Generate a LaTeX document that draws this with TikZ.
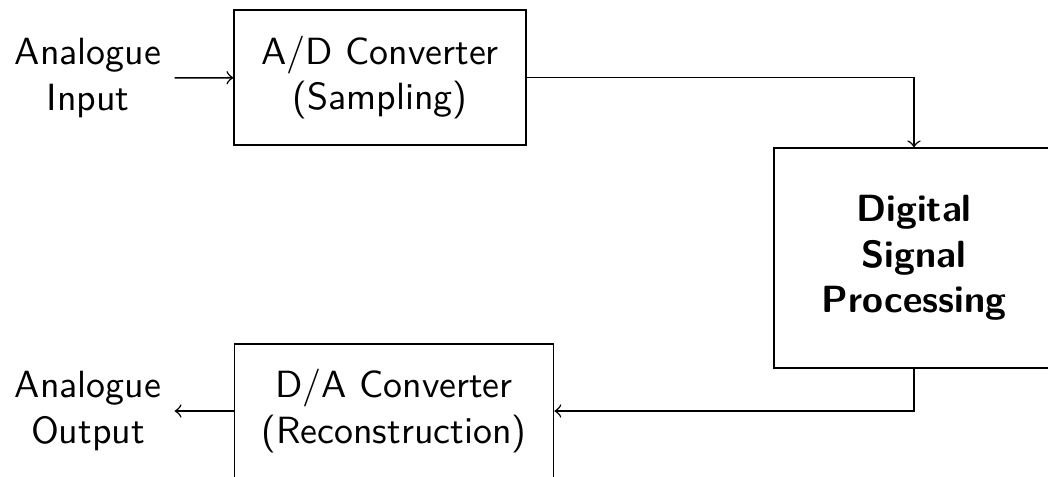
\documentclass[tikz,border=0pt]{standalone}
\begin{document}
\begin{tikzpicture}[x=0.264pt,y=-0.264pt,
  font=\sffamily,
  blockbox/.style={draw, align=center, inner sep=0pt},
  lbl/.style={align=center},
  conn/.style={->, line width=0.4pt}]
\useasboundingbox (0,0) rectangle (1048,477);
\node[lbl] (in) at (88,78) {Analogue\\Input};
\node[blockbox, minimum width=77pt, minimum height=35.6pt] (ad) at (380,77.5) {A/D Converter\\(Sampling)};
\node[blockbox, minimum width=74pt, minimum height=58pt, font=\sffamily\bfseries] (dsp) at (914,258) {Digital\\Signal\\Processing};
\node[blockbox, minimum width=84.3pt, minimum height=35.4pt] (da) at (394,411) {D/A Converter\\(Reconstruction)};
\node[lbl] (out) at (88,411) {Analogue\\Output};
\draw[conn] (in) -- (ad);
\draw[conn] (ad.east) -| (dsp.north);
\draw[conn] (dsp.south) |- (da.east);
\draw[conn] (da) -- (out);
\end{tikzpicture}
\end{document}
